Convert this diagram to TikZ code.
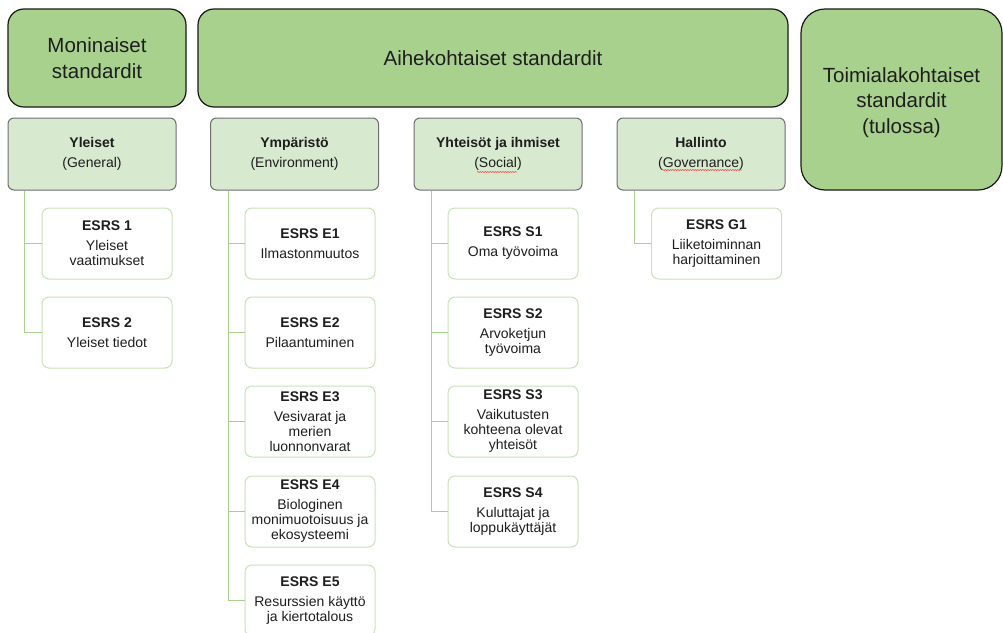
\documentclass[tikz,border=0pt]{standalone}
\usepackage{fontspec}
\setmainfont{Liberation Sans}
\usetikzlibrary{decorations.pathmorphing}
\definecolor{bigfill}{HTML}{A9D18E}
\definecolor{hdrfill}{HTML}{D7E9CF}
\definecolor{hdrline}{HTML}{6E6E6E}
\definecolor{childline}{HTML}{C8E2B8}
\definecolor{connline}{HTML}{A9D18E}
\definecolor{txt}{HTML}{1E1E1E}
\tikzset{
  bigbox/.style={draw=black!90, line width=1.2pt, fill=bigfill, rounded corners=16pt, align=center,
    text=txt, font=\fontsize{20.5}{25.5}\selectfont, inner sep=0pt},
  bigtext/.style={align=center, text=txt, font=\fontsize{20.5}{25.5}\selectfont, inner sep=0pt},
  hdrbox/.style={draw=hdrline, line width=1pt, fill=hdrfill, rounded corners=6pt, align=center,
    minimum width=168pt, minimum height=72pt, inner sep=0pt, text=txt, font=\fontsize{14}{20}\selectfont},
  childbox/.style={draw=childline, line width=1pt, fill=white, rounded corners=7pt, align=center,
    minimum width=130pt, minimum height=71pt, inner sep=0pt, text=txt, font=\fontsize{14}{15}\selectfont},
  conn/.style={draw=connline, line width=1pt},
  squiggle/.style={draw=red!75, line width=0.5pt, decorate, decoration={snake, amplitude=0.6pt, segment length=2.5pt}}
}
\newcommand{\ttl}[1]{\textbf{#1}\\[5pt]}
\begin{document}
\begin{tikzpicture}[x=1pt,y=-1pt]
\clip (0,0) rectangle (1003,632);
\fill[white] (0,0) rectangle (1003,632);
% top boxes
\node[bigbox, minimum width=178pt, minimum height=98pt] (mon) at (97,58) {Moninaiset\\standardit};
\node[bigbox, minimum width=590pt, minimum height=98pt] (aih) at (493,58) {Aihekohtaiset standardit};
\node[bigbox, rounded corners=24pt, minimum width=201pt, minimum height=181pt] (toi) at (901.5,99.5) {};
\node[bigtext] (toit) at ([yshift=-3pt]toi.center) {Toimialakohtaiset\\standardit\\(tulossa)};
% headers
\node[hdrbox] (hy) at (92,154) {\textbf{Yleiset}\\(General)};
\node[hdrbox] (he) at (294.5,154) {\textbf{Ympäristö}\\(Environment)};
\node[hdrbox] (hs) at (498,154) {\textbf{Yhteisöt ja ihmiset}\\(Social)};
\node[hdrbox] (hg) at (701,154) {\textbf{Hallinto}\\(Governance)};
% spell-check squiggles
\draw[squiggle] ([xshift=-21pt,yshift=-18pt]hs.center) -- ([xshift=19pt,yshift=-18pt]hs.center);
\draw[squiggle] ([xshift=-39pt,yshift=-16pt]hg.center) -- ([xshift=41pt,yshift=-16pt]hg.center);
% Yleiset children
\node[childbox] (y1) at (107,243.5) {\ttl{ESRS 1}Yleiset\\vaatimukset};
\node[childbox] (y2) at (107,332.5) {\ttl{ESRS 2}Yleiset tiedot};
% Environment children
\node[childbox] (e1) at (310,243.5) {\ttl{ESRS E1}Ilmastonmuutos};
\node[childbox] (e2) at (310,332.5) {\ttl{ESRS E2}Pilaantuminen};
\node[childbox] (e3) at (310,421.5) {\ttl{ESRS E3}Vesivarat ja\\merien\\luonnonvarat};
\node[childbox] (e4) at (310,511.5) {\ttl{ESRS E4}Biologinen\\monimuotoisuus ja\\ekosysteemi};
\node[childbox] (e5) at (310,600.5) {\ttl{ESRS E5}Resurssien käyttö\\ja kiertotalous};
% Social children
\node[childbox] (s1) at (513,243.5) {\ttl{ESRS S1}Oma työvoima};
\node[childbox] (s2) at (513,332.5) {\ttl{ESRS S2}Arvoketjun\\työvoima};
\node[childbox] (s3) at (513,421.5) {\ttl{ESRS S3}Vaikutusten\\kohteena olevat\\yhteisöt};
\node[childbox] (s4) at (513,511.5) {\ttl{ESRS S4}Kuluttajat ja\\loppukäyttäjät};
% Governance child
\node[childbox] (g1) at (716.5,243.5) {\ttl{ESRS G1}Liiketoiminnan\\harjoittaminen};
% connectors
\foreach \c in {y1,y2} \draw[conn] ([xshift=17pt]hy.south west) |- (\c.west);
\foreach \c in {e1,e2,e3,e4,e5} \draw[conn] ([xshift=18pt]he.south west) |- (\c.west);
\foreach \c in {s1,s2,s3,s4} \draw[conn] ([xshift=18pt]hs.south west) |- (\c.west);
\draw[conn] ([xshift=18pt]hg.south west) |- (g1.west);
\end{tikzpicture}
\end{document}
